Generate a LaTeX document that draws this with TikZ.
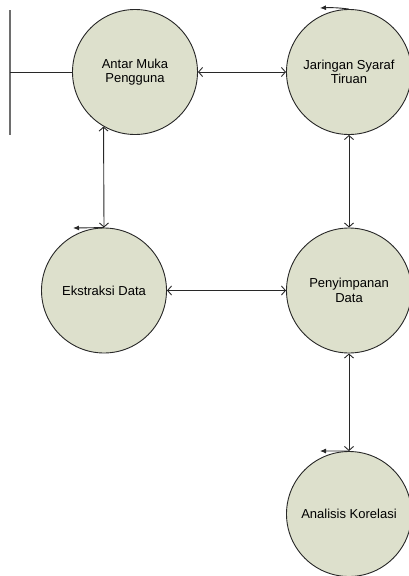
\documentclass[tikz,border=0pt]{standalone}
\usepackage{fontspec}
\setmainfont{Liberation Sans}
\usetikzlibrary{arrows.meta}
\definecolor{procfill}{RGB}{221,224,204}
\definecolor{edgecol}{RGB}{40,40,40}
\definecolor{termcol}{RGB}{110,110,110}
\begin{document}
\begin{tikzpicture}[x=1pt,y=-1pt,
  proc/.style={circle,draw=edgecol,line width=0.9pt,fill=procfill,minimum size=125pt,inner sep=0pt,align=center,
    font=\fontsize{13pt}{14.5pt}\selectfont},
  flow/.style={draw=edgecol,line width=0.9pt,{Straight Barb[length=4pt,width=9pt]}-{Straight Barb[length=4pt,width=9pt]}},
  loopflow/.style={draw=edgecol,line width=0.9pt,-{Latex[length=6pt,width=5pt]}},
  term/.style={draw=termcol,line width=1.3pt}]
\useasboundingbox (0,0) rectangle (409,576);
\node[proc] (c1) at (135,72) {Antar Muka\\Pengguna};
\node[proc] (c2) at (349,72) {Jaringan Syaraf\\Tiruan};
\node[proc] (c3) at (104,290.5) {Ekstraksi Data};
\node[proc] (c4) at (349,290.5) {Penyimpanan\\Data};
\node[proc] (c5) at (349,514) {Analisis Korelasi};
% external entity bar
\coordinate (t1) at (10,10);
\coordinate (t2) at (10,135);
\coordinate (t3) at (10,72);
\draw[term] (t1) -- (t2);
\draw[draw=edgecol,line width=0.9pt] (t3) -- (c1.west);
% flows
\draw[flow] (c1.east) -- (c2.west);
\draw[flow] (c1.240) -- (c3.north);
\draw[flow] (c2.south) -- (c4.north);
\draw[flow] (c3.east) -- (c4.west);
\draw[flow] (c4.south) -- (c5.north);
% small arrows on top
\coordinate (a2) at (320,8);
\coordinate (a3) at (73,228);
\coordinate (a5) at (320,451);
\draw[loopflow] (c2.north) to[bend right=5] (a2);
\draw[loopflow] (c3.north) -- (a3);
\draw[loopflow] (c5.north) -- (a5);
\end{tikzpicture}
\end{document}
